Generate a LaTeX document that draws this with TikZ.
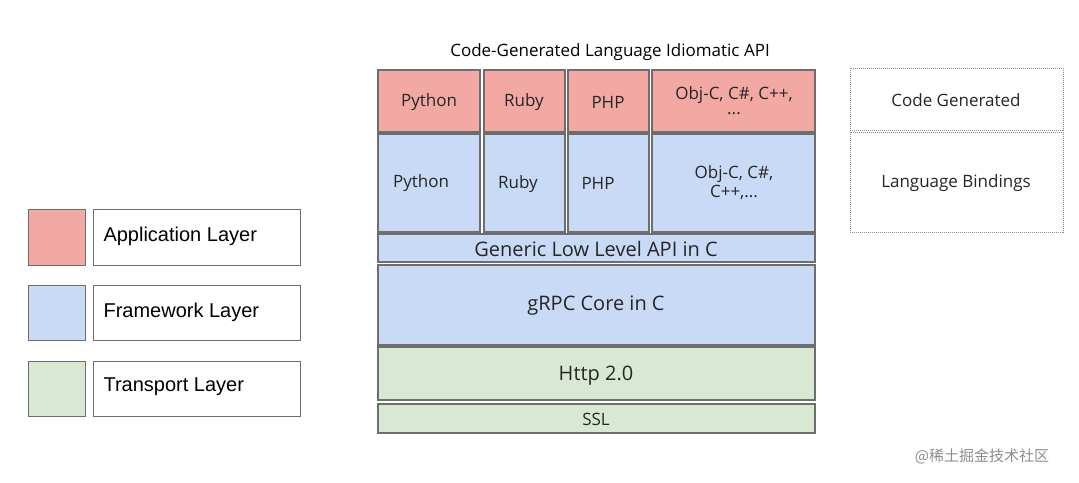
\documentclass[tikz,border=0pt]{standalone}
\usepackage{fontspec}
\setmainfont{Open Sans}
\newfontfamily\arial{Liberation Sans}
\newfontfamily\cjk{Noto Sans CJK SC}
\definecolor{app}{HTML}{F2A9A3}
\definecolor{fw}{HTML}{C9DAF6}
\definecolor{tr}{HTML}{D8E8D2}
\definecolor{bd}{HTML}{6E6E6E}
\begin{document}
\begin{tikzpicture}[x=1pt,y=-1pt,
 bx/.style={draw=bd,line width=1.8pt},
 t/.style={font=\fontsize{17}{19}\selectfont,text=black!85,align=center},
 big/.style={font=\fontsize{20}{23}\selectfont,text=black!85,align=center},
 lg/.style={font=\arial\fontsize{20}{23}\selectfont,anchor=west}]
\useasboundingbox (0,0) rectangle (1079,482);
\node[font=\fontsize{17}{19}\selectfont] (title) at (610,52) {Code-Generated Language Idiomatic API};
% top row
\draw[bx,fill=app] (378,70) rectangle (480,132);
\draw[bx,fill=app] (484,70) rectangle (565,132);
\draw[bx,fill=app] (568,70) rectangle (649,132);
\draw[bx,fill=app] (652,70) rectangle (815,132);
\node[t] (a1) at (429,102) {Python};
\node[t] (a2) at (524,102) {Ruby};
\node[t] (a3) at (608,102) {PHP};
\node[t] (a4) at (734,101) {Obj-C, C\#, C++,\\[-4pt]...};
% middle row
\draw[bx,fill=fw] (378,134) rectangle (480,232);
\draw[bx,fill=fw] (484,134) rectangle (565,232);
\draw[bx,fill=fw] (568,134) rectangle (649,232);
\draw[bx,fill=fw] (652,134) rectangle (815,232);
\node[t] (b1) at (421,183) {Python};
\node[t] (b2) at (518,184) {Ruby};
\node[t] (b3) at (598,183) {PHP};
\node[t] (b4) at (734,183) {Obj-C, C\#,\\C++,...};
% stack
\draw[bx,fill=fw] (378,234) rectangle (815,262);
\node[big] (gen) at (596,249) {Generic Low Level API in C};
\draw[bx,fill=fw] (378,265) rectangle (815,345);
\node[big] (core) at (596,306) {gRPC Core in C};
\draw[bx,fill=tr] (378,347) rectangle (815,400);
\node[big] (http) at (596,376) {Http 2.0};
\draw[bx,fill=tr] (378,404) rectangle (815,433);
\node[t] (ssl) at (596,419) {SSL};
% right dotted
\draw[draw=black!45,densely dotted,line width=1pt] (850,68) rectangle (1063,130);
\draw[draw=black!45,densely dotted,line width=1pt] (850,132) rectangle (1063,232);
\node[t] (cg) at (956,100) {Code Generated};
\node[t] (lb) at (956,183) {Language Bindings};
% legend
\draw[bx,line width=1pt,fill=app] (28,209) rectangle (85,265);
\draw[bx,line width=1pt,fill=fw] (28,285) rectangle (85,340);
\draw[bx,line width=1pt,fill=tr] (28,361) rectangle (85,416);
\draw[bx,line width=1pt] (93,209) rectangle (300,265);
\draw[bx,line width=1pt] (93,285) rectangle (300,340);
\draw[bx,line width=1pt] (93,361) rectangle (300,416);
\node[lg] (l1) at (100,236) {Application Layer};
\node[lg] (l2) at (100,312) {Framework Layer};
\node[lg] (l3) at (100,387) {Transport Layer};
\node[font=\cjk\fontsize{15}{17}\selectfont,text=black!45] (wm) at (982,456) {@稀土掘金技术社区};
\end{tikzpicture}
\end{document}
